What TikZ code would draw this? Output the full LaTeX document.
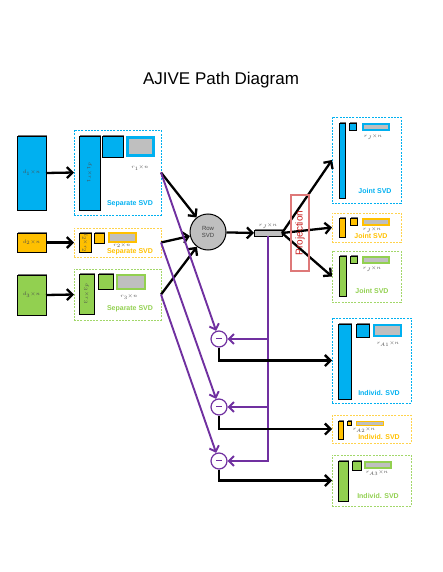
\documentclass[tikz,border=0pt]{standalone}
\usepackage{fontspec}
\setmainfont{Liberation Sans}
\usetikzlibrary{arrows.meta}
\usetikzlibrary{shadows}

\definecolor{ublue}{RGB}{0,176,240}
\definecolor{uorange}{RGB}{255,192,0}
\definecolor{ugreen}{RGB}{146,208,80}
\definecolor{upurple}{RGB}{112,48,160}
\definecolor{ugray}{RGB}{191,191,191}
\definecolor{projred}{RGB}{200,30,30}

\tikzset{
  block/.style={draw=black,line width=0.9pt,inner sep=0pt,outer sep=0pt,
    drop shadow={shadow xshift=0.9pt,shadow yshift=0.9pt,fill=black!55,opacity=1}},
  grayrect/.style={fill=ugray,line width=#1},
  grayrect/.default=1.5pt,
  svdbox/.style={draw,dash pattern=on 2pt off 1.2pt,line width=0.7pt,inner sep=0pt,outer sep=0pt},
  svdtitle/.style={font=\bfseries\fontsize{7}{8}\selectfont,inner sep=0pt},
  tinylabel/.style={font=\fontsize{3.8}{4}\selectfont,inner sep=0pt,text=black!70},
  blackarrow/.style={line width=2.3pt,-{Straight Barb[length=5.5pt,width=11pt]}},
  purplearrow/.style={upurple,line width=1.9pt,-{Straight Barb[length=5pt,width=10pt]}},
  minuscircle/.style={circle,draw=upurple,fill=white,line width=1.2pt,minimum size=16pt,inner sep=0pt,
    text=upurple},
}

\begin{document}
\begin{tikzpicture}[x=1pt,y=-1pt]

\useasboundingbox (0,0) rectangle (442,572);

% TITLE
\node[font=\fontsize{17}{20}\selectfont] (title) at (221,80) {AJIVE Path Diagram};

% DRAW THE INPUT BLOCKS
\node[block,fill=ublue,minimum width=29pt,minimum height=74pt] (in1) at (31.5,173) {};
\node[block,fill=uorange,minimum width=29pt,minimum height=19pt] (in2) at (31.5,242.5) {};
\node[block,fill=ugreen,minimum width=29pt,minimum height=40pt] (in3) at (31.5,295) {};
\node[tinylabel] (in1lab) at (in1) {$d_1{\times}n$};
\node[tinylabel] (in2lab) at (in2) {$d_2{\times}n$};
\node[tinylabel] (in3lab) at (in3) {$d_3{\times}n$};

% DRAW THE SEPARATE SVD BOXES
\node[svdbox,draw=ublue,minimum width=87pt,minimum height=85pt] (sep1) at (117.5,172.5) {};
\node[svdbox,draw=uorange!70,minimum width=87pt,minimum height=29pt] (sep2) at (117.5,242.5) {};
\node[svdbox,draw=ugreen!85,minimum width=87pt,minimum height=51pt] (sep3) at (117.5,294.5) {};

%  blue
\filldraw[block,fill=ublue] (79,136) rectangle (100,210);
\node[tinylabel,rotate=-90] (sep1a) at (89.5,173) {$d_1{\times}r_1$};
\filldraw[block,fill=ublue] (102,136) rectangle (123,157);
\filldraw[grayrect=2.6pt,draw=ublue] (127.3,137.3) rectangle (153.7,155.7);
\node[tinylabel] (sep1b) at (140,168) {$r_1{\times}n$};
\node[svdtitle,text=ublue] (sep1title) at (130,204) {Separate SVD};

%  orange
\filldraw[block,fill=uorange] (79,233) rectangle (91,252);
\node[tinylabel,rotate=-90] (sep2a) at (85,242.5) {$d_2{\times}r_2$};
\filldraw[block,fill=uorange] (94,233) rectangle (104,243);
\filldraw[grayrect=2pt,draw=uorange] (109,233) rectangle (136,242);
\node[tinylabel] (sep2b) at (122,245.3) {$r_2{\times}n$};
\node[svdtitle,text=uorange] (sep2title) at (130,252) {Separate SVD};

%  green
\filldraw[block,fill=ugreen] (79,274) rectangle (94,314);
\node[tinylabel,rotate=-90] (sep3a) at (86.5,294) {$d_3{\times}r_3$};
\filldraw[block,fill=ugreen] (98,274) rectangle (113,289);
\filldraw[grayrect=2.4pt,draw=ugreen] (117.2,275.2) rectangle (144.8,288.8);
\node[tinylabel] (sep3b) at (129,297) {$r_3{\times}n$};
\node[svdtitle,text=ugreen] (sep3title) at (130,309) {Separate SVD};

% DRAW THE ROW SVD AND THE JOINT BAR
\node[circle,draw=black,fill=ugray,line width=1pt,minimum size=36pt,inner sep=0pt,align=center,
  font=\fontsize{6}{7}\selectfont,text=black!75] (rowsvd) at (208,232) {Row\\SVD};
\node[block,fill=ugray,minimum width=28pt,minimum height=6pt] (rj) at (268,233) {};
\node[tinylabel] (rjlab) at (268,226) {$r_J{\times}n$};

% DRAW THE JOINT SVD BOXES
\node[svdbox,draw=ublue,minimum width=69pt,minimum height=86pt] (joint1) at (366.5,160) {};
\node[svdbox,draw=uorange!70,minimum width=69pt,minimum height=29pt] (joint2) at (366.5,227.5) {};
\node[svdbox,draw=ugreen!85,minimum width=69pt,minimum height=51pt] (joint3) at (366.5,276.5) {};

\filldraw[block,fill=ublue] (339,123) rectangle (345,198);
\filldraw[block,fill=ublue] (349.5,123) rectangle (356.5,130);
\filldraw[grayrect,draw=ublue] (362.8,123.8) rectangle (389.2,130.2);
\node[tinylabel] (joint1b) at (373,137) {$r_J{\times}n$};
\node[svdtitle,text=ublue] (joint1title) at (375,191) {Joint SVD};

\filldraw[block,fill=uorange] (339,218) rectangle (345,237);
\filldraw[block,fill=uorange] (350,218) rectangle (357,225);
\filldraw[grayrect,draw=uorange] (362.8,218.8) rectangle (389.2,225.2);
\node[tinylabel] (joint2b) at (372,229.5) {$r_J{\times}n$};
\node[svdtitle,text=uorange] (joint2title) at (371,236) {Joint SVD};

\filldraw[block,fill=ugreen] (339,256) rectangle (346,296);
\filldraw[block,fill=ugreen] (350,256) rectangle (357,263);
\filldraw[grayrect,draw=ugreen] (362.8,256.8) rectangle (389.2,263.2);
\node[tinylabel] (joint3b) at (372,269) {$r_J{\times}n$};
\node[svdtitle,text=ugreen] (joint3title) at (372,291) {Joint SVD};

% DRAW THE INDIVIDUAL SVD BOXES
\node[svdbox,draw=ublue,minimum width=79pt,minimum height=85pt] (indiv1) at (371.5,360.5) {};
\node[svdbox,draw=uorange!70,minimum width=79pt,minimum height=28pt] (indiv2) at (371.5,429) {};
\node[svdbox,draw=ugreen!85,minimum width=79pt,minimum height=51pt] (indiv3) at (371.5,480.5) {};

\filldraw[block,fill=ublue] (338,324) rectangle (351,399);
\filldraw[block,fill=ublue] (356,324) rectangle (369,337);
\filldraw[grayrect=2pt,draw=ublue] (374,325) rectangle (401,336);
\node[tinylabel] (indiv1b) at (388,344) {$r_{A1}{\times}n$};
\node[svdtitle,text=ublue] (indiv1title) at (379,393) {Individ. SVD};

\filldraw[block,fill=uorange] (338,421) rectangle (343,439);
\filldraw[block,fill=uorange] (347,421) rectangle (351,425);
\filldraw[grayrect=1.2pt,draw=uorange] (356.6,421.6) rectangle (383.4,425.4);
\node[tinylabel] (indiv2b) at (364,430) {$r_{A2}{\times}n$};
\node[svdtitle,text=uorange] (indiv2title) at (379,437) {Individ. SVD};

\filldraw[block,fill=ugreen] (338,461) rectangle (348,501);
\filldraw[block,fill=ugreen] (352,461) rectangle (361,470);
\filldraw[grayrect=1.6pt,draw=ugreen] (364.8,461.8) rectangle (391.2,468.2);
\node[tinylabel] (indiv3b) at (377,473) {$r_{A3}{\times}n$};
\node[svdtitle,text=ugreen] (indiv3title) at (378,496) {Individ. SVD};

% DRAW THE MINUS CIRCLES
\node[minuscircle] (minus1) at (219,339) {\rule[1.5pt]{5.5pt}{1.4pt}};
\node[minuscircle] (minus2) at (219,407) {\rule[1.5pt]{5.5pt}{1.4pt}};
\node[minuscircle] (minus3) at (219,461) {\rule[1.5pt]{5.5pt}{1.4pt}};

% DRAW THE CONNECTORS
\draw[blackarrow] (in1.east) -- (sep1.west);
\draw[blackarrow] (in2.east) -- (sep2.west);
\draw[blackarrow] (in3.east) -- (sep3.west);

\draw[blackarrow] (sep1.east) -- (rowsvd);
\draw[blackarrow] (sep2.east) -- (rowsvd);
\draw[blackarrow] (sep3.east) -- (rowsvd);

\draw[purplearrow] (sep1.east) -- (minus1);
\draw[purplearrow] (sep2.east) -- (minus2);
\draw[purplearrow] (sep3.east) -- (minus3);

\draw[blackarrow] (rowsvd) -- (rj.west);

\draw[blackarrow] (rj.east) -- (joint1.west);
\draw[blackarrow] (rj.east) -- (joint2.west);
\draw[blackarrow] (rj.east) -- (joint3.west);

\draw[purplearrow] (rj.south) |- (minus3);
\draw[purplearrow] (rj.south |- minus1) -- (minus1);
\draw[purplearrow] (rj.south |- minus2) -- (minus2);

\draw[blackarrow] (minus1.south) |- (indiv1.west);
\draw[blackarrow] (minus2.south) |- (indiv2.west);
\draw[blackarrow] (minus3.south) |- (indiv3.west);

% DRAW THE PROJECTION BOX
\node[draw=projred!60,line width=1.2pt,minimum width=18pt,minimum height=76pt,inner sep=0pt] (proj) at (300,233) {};
\node[rotate=90,text=projred,font=\fontsize{10}{11}\selectfont,inner sep=0pt] (projlab) at (proj) {Projection};

\end{tikzpicture}
\end{document}
